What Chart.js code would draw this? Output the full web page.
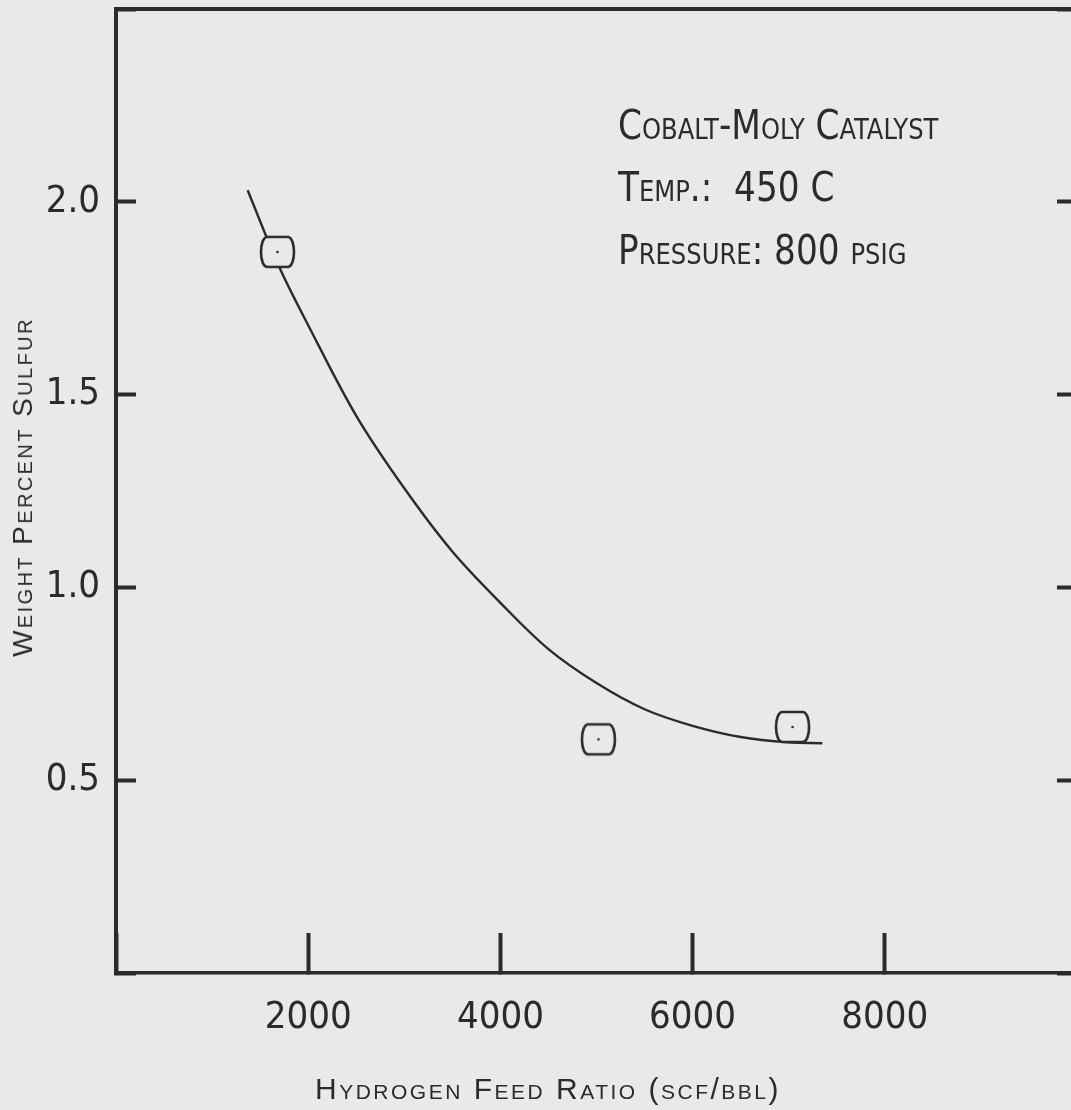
<!DOCTYPE html>
<html>
<head>
<meta charset="utf-8">
<script src="https://cdn.jsdelivr.net/npm/chart.js@4.4.1/dist/chart.umd.min.js"></script>
<style>
  html, body { margin: 0; padding: 0; background: #e9e9e9; overflow: hidden; }
  #wrap { position: relative; width: 1071px; height: 1110px; overflow: hidden; }
  #chart { position: absolute; left: 0; top: 0; }
  .lbl { position: absolute; color: #2b2b2b; white-space: pre; line-height: 1; font-variant: small-caps; }
  .note { font-family: "Liberation Sans Narrow", "DejaVu Sans Condensed", sans-serif; font-size: 41px; left: 618px; transform: scaleX(0.93); transform-origin: 0 50%; }
  .axt { font-family: "Liberation Sans", "DejaVu Sans", sans-serif; transform: translate(-50%, -50%); }
</style>
</head>
<body>
<div id="wrap">
  <canvas id="chart" width="1080" height="1110"></canvas>
  <div class="lbl note" style="top:105px">Cobalt-Moly Catalyst</div>
  <div class="lbl note" style="top:167px">Temp.:  450 C</div>
  <div class="lbl note" style="top:230px">Pressure: 800 psig</div>
  <div class="lbl axt" style="left:548px; top:1089px; font-size:30px; letter-spacing:2.5px">Hydrogen Feed Ratio (scf/bbl)</div>
  <div class="lbl axt" style="left:23px; top:487px; font-size:28px; letter-spacing:2.4px; transform: translate(-50%, -50%) rotate(-90deg)">Weight Percent Sulfur</div>
</div>
<script>
// fitted curve
const curveX = [1370, 1700, 2000, 2500, 3000, 3500, 4000, 4500, 5000, 5500, 6000, 6500, 7000, 7350];
const curveY = [2.03, 1.83, 1.68, 1.445, 1.257, 1.093, 0.96, 0.84, 0.752, 0.684, 0.641, 0.612, 0.598, 0.596];

// measured points
const pointX = [1680, 5020, 7040];
const pointY = [1.87, 0.606, 0.638];

const xTicks = [2000, 4000, 6000, 8000];
const yTicks = [0.5, 1.0, 1.5, 2.0];

const ink = "#2b2b2b";
const paper = "#e9e9e9";
const narrow = "'Liberation Sans Narrow', 'DejaVu Sans Condensed', sans-serif";

// rounded "barrel" box used as the point symbol
const barrel = (w, h) => {
    const c = document.createElement("canvas");
    c.width = w + 8; c.height = h + 8;
    const g = c.getContext("2d");
    const x0 = 4, y0 = 4, x1 = w + 4, y1 = h + 4;
    g.beginPath();
    g.moveTo(x0 + 6, y0);
    g.lineTo(x1 - 6, y0);
    g.bezierCurveTo(x1 + 2, y0 + 1, x1 + 2, y1 - 1, x1 - 6, y1);
    g.lineTo(x0 + 6, y1);
    g.bezierCurveTo(x0 - 2, y1 - 1, x0 - 2, y0 + 1, x0 + 6, y0);
    g.closePath();
    g.fillStyle = paper;
    g.fill();
    g.lineWidth = 2.6;
    g.strokeStyle = ink;
    g.stroke();
    g.beginPath();
    g.arc(c.width / 2, c.height / 2, 1.3, 0, Math.PI * 2);
    g.fillStyle = ink;
    g.fill();
    return c;
};

const marker = barrel(33, 30);

// no label overhang padding, the frame runs to the canvas edges
const noPad = s => { s.paddingLeft = s.paddingRight = s.paddingTop = s.paddingBottom = 0; };

new Chart(document.getElementById("chart"), {
    type: "scatter",
    data: {
        datasets: [
            {
                label: "points",
                data: pointX.map((x, i) => ({ x, y: pointY[i] })),
                pointStyle: marker,
                pointRadius: 16,
                order: 0
            },
            {
                label: "curve",
                data: curveX.map((x, i) => ({ x, y: curveY[i] })),
                showLine: true,
                borderColor: ink,
                borderWidth: 2.4,
                pointRadius: 0,
                tension: 0.35,
                order: 1
            }
        ]
    },
    options: {
        responsive: false,
        animation: false,
        layout: { autoPadding: false, padding: { top: 9, right: 3, left: 0, bottom: 0 } },
        plugins: { legend: { display: false }, tooltip: { enabled: false } },
        scales: {
            x: {
                type: "linear",
                position: "bottom",
                min: 0, max: 10000,
                afterBuildTicks: s => { s.ticks = [0, ...xTicks, 10000].map(v => ({ value: v })); },
                ticks: {
                    padding: 62,
                    color: ink,
                    font: { family: narrow, size: 38 },
                    maxRotation: 0,
                    autoSkip: false,
                    callback: v => xTicks.includes(v) ? String(v) : ""
                },
                grid: { drawOnChartArea: false, tickLength: -40, tickWidth: 4, tickColor: ink },
                border: { color: ink, width: 3.5 },
                afterFit: s => { s.height = 137; noPad(s); }
            },
            xTop: {
                type: "linear",
                position: "top",
                ticks: { display: false },
                grid: { display: false },
                border: { color: ink, width: 4 },
                afterFit: s => { s.height = 0; noPad(s); }
            },
            y: {
                type: "linear",
                position: "left",
                min: 0, max: 2.5,
                afterBuildTicks: s => { s.ticks = [0, ...yTicks, 2.5].map(v => ({ value: v })); },
                ticks: {
                    padding: 36,
                    color: ink,
                    font: { family: narrow, size: 38 },
                    callback: v => yTicks.includes(v) ? v.toFixed(1) : ""
                },
                grid: { drawOnChartArea: false, tickLength: -20, tickWidth: 4, tickColor: ink },
                border: { color: ink, width: 4 },
                afterFit: s => { s.width = 116; noPad(s); }
            },
            yRight: {
                type: "linear",
                position: "right",
                min: 0, max: 2.5,
                afterBuildTicks: s => { s.ticks = [0, ...yTicks, 2.5].map(v => ({ value: v })); },
                ticks: { display: false },
                grid: { drawOnChartArea: false, tickLength: -20, tickWidth: 4, tickColor: ink },
                border: { color: ink, width: 4 },
                afterFit: s => { s.width = 0; noPad(s); }
            }
        }
    }
});
</script>
</body>
</html>
